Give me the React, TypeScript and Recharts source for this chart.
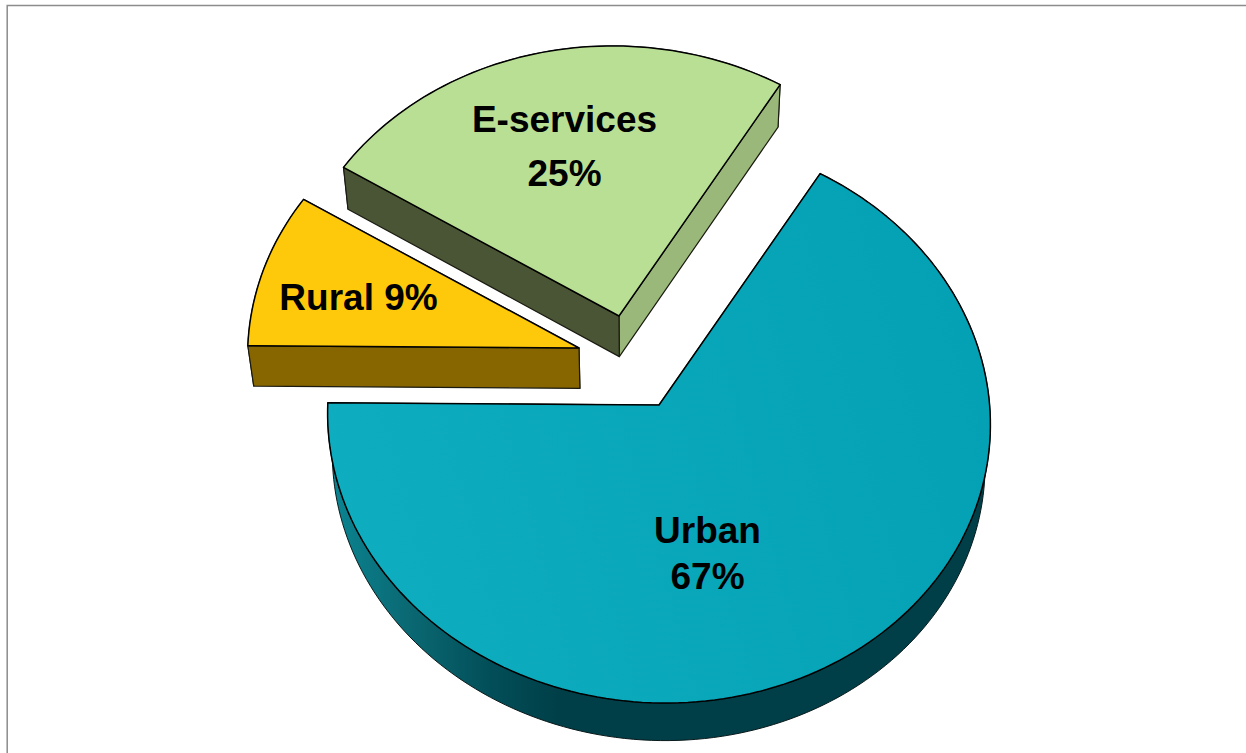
import { Pie, PieChart } from 'recharts';

const categories = ['E-services', 'Rural', 'Urban'];
const shares = [25, 9, 67];

const sliceData = categories.map((name, i) => ({ name, value: shares[i] }));

// how far each slice is pulled out of the pie
const EXPLODE: Record<string, [number, number]> = {
  'E-services': [-40, -89],
  Rural: [-80, -57],
  Urban: [0, 0],
};

const COLORS: Record<string, { top: string; startCut: string; endCut: string; rim: string }> = {
  'E-services': { top: '#b9df94', startCut: '#9ab87a', endCut: '#4a5535', rim: '#4a5535' },
  Rural: { top: '#fec80b', startCut: '#876600', endCut: '#876600', rim: '#876600' },
  Urban: { top: 'url(#urbanTop)', startCut: '#003f48', endCut: '#003f48', rim: 'url(#urbanRim)' },
};

const LABEL_LINES: Record<string, { x: number; y: number; twoLines: boolean }> = {
  'E-services': { x: 564.5, y: 132, twoLines: true },
  Rural: { x: 358.5, y: 310, twoLines: false },
  Urban: { x: 707.5, y: 543, twoLines: true },
};

// tilt of the pie plane
const SQUASH = 0.856;
const TILT = 0.0493;
const SHEAR = -0.02;
// extrusion: the base is shifted down and shrinks towards the vanishing point
const DEPTH = 42.5;
const BASE_X = 640;
const BASE_Y = 81;
const SCALE_X = 0.985;
const SCALE_Y = 0.992;

type Pt = [number, number];

function project(cx: number, cy: number, r: number, deg: number): Pt {
  const a = (deg * Math.PI) / 180;
  const u = Math.cos(a);
  const v = Math.sin(a);
  const w = 1 + TILT * v;
  return [cx + (r * u) / w, cy - (r * SQUASH * (v + SHEAR * u)) / w];
}

function toBase([x, y]: Pt): Pt {
  return [BASE_X + (x - BASE_X) * SCALE_X, BASE_Y + (y - BASE_Y) * SCALE_Y + DEPTH];
}

function toPath(pts: Pt[]) {
  return 'M' + pts.map((p) => p[0].toFixed(2) + ' ' + p[1].toFixed(2)).join('L') + 'Z';
}

function Slice3D(props: any) {
  const { cx, cy, outerRadius, startAngle, endAngle, name } = props;
  const [dx, dy] = EXPLODE[name];
  const colors = COLORS[name];
  const lo = Math.min(startAngle, endAngle);
  const hi = Math.max(startAngle, endAngle);

  const apex: Pt = [cx + dx, cy + dy];
  const arc: Pt[] = [];
  const steps = Math.ceil((hi - lo) / 1.5);
  for (let i = 0; i <= steps; i++) {
    const p = project(cx, cy, outerRadius, lo + ((hi - lo) * i) / steps);
    arc.push([p[0] + dx, p[1] + dy]);
  }
  const first = arc[0];
  const last = arc[arc.length - 1];
  const baseArc = arc.map(toBase);

  return (
    <g>
      <path
        d={toPath([...arc, ...baseArc.slice().reverse()])}
        fill={colors.rim}
        stroke="#0a1a1c"
        strokeWidth={1}
        strokeLinejoin="round"
      />
      <path
        d={toPath([apex, first, toBase(first), toBase(apex)])}
        fill={colors.startCut}
        stroke="#1a1a10"
        strokeWidth={1.2}
        strokeLinejoin="round"
      />
      <path
        d={toPath([apex, last, toBase(last), toBase(apex)])}
        fill={colors.endCut}
        stroke="#1a1a10"
        strokeWidth={1.2}
        strokeLinejoin="round"
      />
      <path
        d={toPath([apex, ...arc])}
        fill={colors.top}
        stroke="#000"
        strokeWidth={1.5}
        strokeLinejoin="round"
      />
    </g>
  );
}

function SliceLabel(props: any) {
  const entry = sliceData[props.index];
  const pos = LABEL_LINES[entry.name];
  const style = {
    fontFamily: '"Liberation Sans", Arial, sans-serif',
    fontSize: 37,
    fontWeight: 700,
    fill: '#000',
  };
  if (!pos.twoLines) {
    return (
      <text x={pos.x} y={pos.y} textAnchor="middle" style={style}>
        {entry.name} {entry.value}%
      </text>
    );
  }
  return (
    <g>
      <text x={pos.x} y={pos.y} textAnchor="middle" style={style}>
        {entry.name}
      </text>
      <text x={pos.x} y={pos.y + (entry.name === 'Urban' ? 46 : 54)} textAnchor="middle" style={style}>
        {entry.value}%
      </text>
    </g>
  );
}

export default function App() {
  return (
    <div style={{ position: 'absolute', left: 0, top: 0, width: 1246, height: 753, background: '#fff' }}>
      <PieChart width={1246} height={753} margin={{ top: 0, right: 0, bottom: 0, left: 0 }}>
        <defs>
          <linearGradient id="urbanTop" gradientUnits="userSpaceOnUse" x1="330" y1="560" x2="990" y2="380">
            <stop offset="0" stopColor="#0eadbf" />
            <stop offset="1" stopColor="#04a1b4" />
          </linearGradient>
          <linearGradient id="urbanRim" gradientUnits="userSpaceOnUse" x1="330" y1="0" x2="560" y2="0">
            <stop offset="0" stopColor="#0a8592" />
            <stop offset="0.35" stopColor="#0a6872" />
            <stop offset="0.7" stopColor="#024e58" />
            <stop offset="1" stopColor="#003f48" />
          </linearGradient>
        </defs>
        <path d="M7.2 753V5.6H1246" fill="none" stroke="#8c8c8c" strokeWidth={1.5} />
        <Pie
          data={sliceData}
          dataKey="value"
          nameKey="name"
          cx={659}
          cy={405}
          innerRadius={0}
          outerRadius={331}
          startAngle={59.5}
          endAngle={419.5}
          paddingAngle={0}
          isAnimationActive={false}
          shape={Slice3D}
          inactiveShape={Slice3D}
          activeShape={Slice3D}
          label={SliceLabel}
          labelLine={false}
        />
      </PieChart>
    </div>
  );
}
